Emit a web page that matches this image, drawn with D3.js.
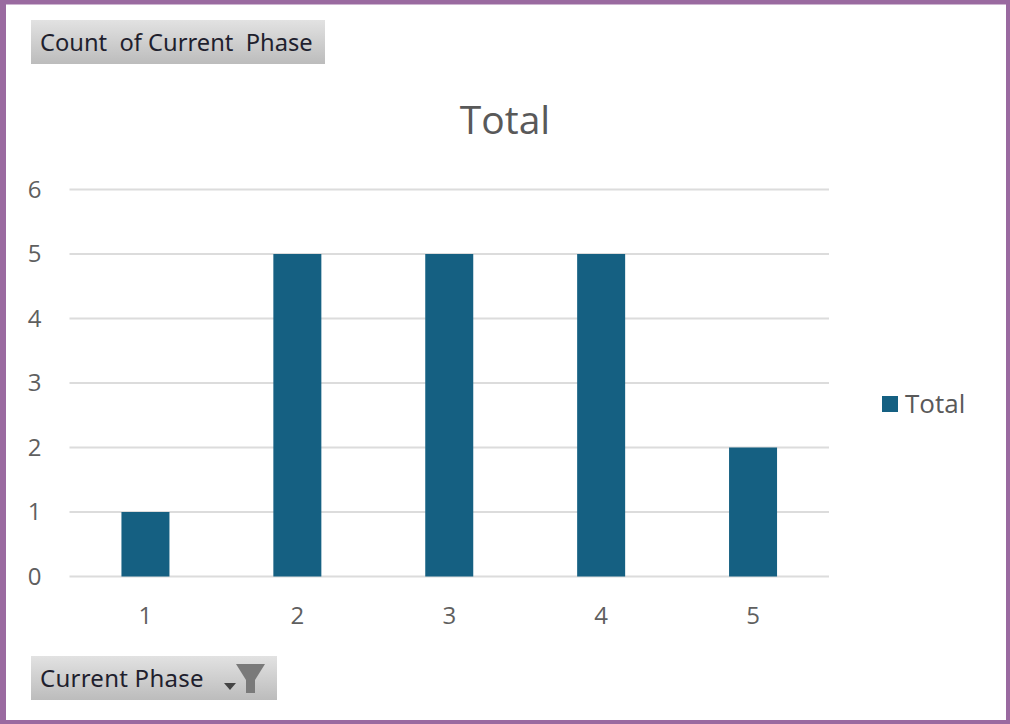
<!DOCTYPE html>
<meta charset="utf-8">
<style>
body { margin: 0; background: #fff; }
text { font-family: "Open Sans", sans-serif; fill: #595959; }
.axis path { display: none; }
.axis line { display: none; }
.axis text { font-size: 24px; fill: #5f5f5f; font-family: "Open Sans", sans-serif; }
.grid line { stroke: #dcdcdc; stroke-width: 2; }
.bar { fill: #156082; }
.btn text { fill: #1f1f2e; font-family: "Noto Sans", sans-serif; }
</style>
<body>
<script src="https://d3js.org/d3.v7.min.js"></script>
<script>
// chart data
var categories = ["1", "2", "3", "4", "5"];
var values = [1, 5, 5, 5, 2];
var yTicks = [0, 1, 2, 3, 4, 5, 6];
var seriesName = "Total";
var chartTitle = "Total";
var valueButton = "Count  of Current  Phase";
var axisButton = "Current Phase";

var W = 1010, H = 724;
var margin = {top: 189.5, right: 181, bottom: 147.5, left: 69.5},
    width = W - margin.left - margin.right,
    height = H - margin.top - margin.bottom;

var svg = d3.select("body").append("svg")
    .attr("width", W)
    .attr("height", H)
    .style("display", "block");

// button gradient
var grad = svg.append("defs").append("linearGradient")
    .attr("id", "btnGrad")
    .attr("x1", 0).attr("y1", 0).attr("x2", 0).attr("y2", 1);
grad.append("stop").attr("offset", "0%").attr("stop-color", "#e2e2e2");
grad.append("stop").attr("offset", "100%").attr("stop-color", "#bcbcbc");

// purple frame, white inside
svg.append("rect")
    .attr("width", W).attr("height", H)
    .attr("fill", "#9a6aa0");
svg.append("rect")
    .attr("x", 6).attr("y", 4.5)
    .attr("width", 1000).attr("height", 715.5)
    .attr("fill", "#fff");

var chart = svg.append("g")
    .attr("transform", "translate(" + margin.left + "," + margin.top + ")");

var x = d3.scaleBand()
    .domain(categories)
    .range([0, width])
    .paddingInner(0.684)
    .paddingOuter(0.342);
var y = d3.scaleLinear()
    .domain([0, 6])
    .range([height, 0]);

// gridlines
chart.append("g")
    .attr("class", "grid")
    .selectAll("line")
    .data(yTicks)
  .enter().append("line")
    .attr("x1", 0)
    .attr("x2", width)
    .attr("y1", function(d) { return y(d); })
    .attr("y2", function(d) { return y(d); });

// bars
chart.selectAll(".bar")
    .data(values)
  .enter().append("rect")
    .attr("class", "bar")
    .attr("x", function(d, i) { return x(categories[i]); })
    .attr("width", x.bandwidth())
    .attr("y", function(d) { return y(d); })
    .attr("height", function(d) { return height - y(d); });

// axes
chart.append("g")
    .attr("class", "axis")
    .attr("transform", "translate(0," + height + ")")
    .call(d3.axisBottom(x).tickSize(0).tickPadding(30));
chart.append("g")
    .attr("class", "axis")
    .call(d3.axisLeft(y).tickValues(yTicks).tickFormat(d3.format("d")).tickSize(0).tickPadding(28));

// title
svg.append("text")
    .attr("x", 505)
    .attr("y", 134)
    .attr("text-anchor", "middle")
    .style("font-size", "39px")
    .text(chartTitle);

// legend
svg.append("rect")
    .attr("x", 882).attr("y", 396)
    .attr("width", 16).attr("height", 16)
    .attr("fill", "#156082");
svg.append("text")
    .attr("x", 905)
    .attr("y", 413)
    .style("font-size", "26px")
    .text(seriesName);

// field buttons
var btn1 = svg.append("g").attr("class", "btn");
btn1.append("rect")
    .attr("x", 31).attr("y", 20)
    .attr("width", 294).attr("height", 44)
    .attr("fill", "url(#btnGrad)");
btn1.append("text")
    .attr("x", 40).attr("y", 51)
    .style("font-size", "23.7px")
    .style("white-space", "pre")
    .text(valueButton);

var btn2 = svg.append("g").attr("class", "btn");
btn2.append("rect")
    .attr("x", 31).attr("y", 656)
    .attr("width", 246).attr("height", 44)
    .attr("fill", "url(#btnGrad)");
btn2.append("text")
    .attr("x", 40).attr("y", 687)
    .style("font-size", "24px")
    .style("letter-spacing", "0.25px")
    .text(axisButton);
// dropdown arrow and funnel icon
btn2.append("path")
    .attr("d", "M224,683 h12 l-6,7 z")
    .attr("fill", "#444");
btn2.append("path")
    .attr("d", "M236,664 h29 l-10,16 v13 h-9 v-13 z")
    .attr("fill", "#7a7a7a");
</script>
</body>
